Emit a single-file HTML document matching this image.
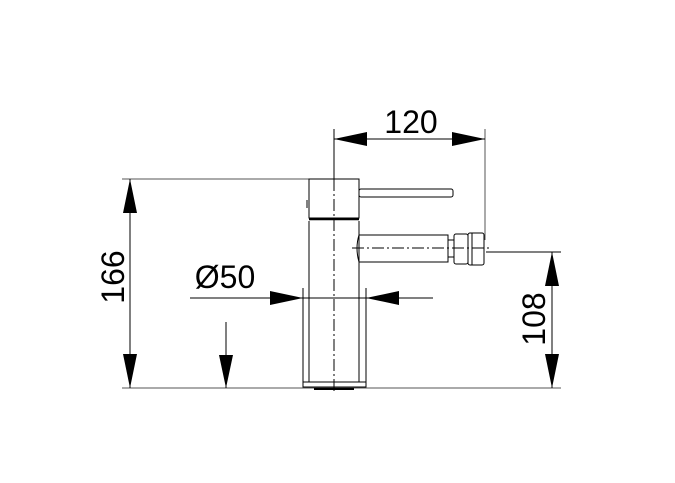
<!DOCTYPE html>
<html><head><meta charset="utf-8"><style>
html,body{margin:0;padding:0;background:#fff}
svg{display:block}
text{font-family:"Liberation Sans",sans-serif;fill:#000}
</style></head><body>
<svg width="675" height="483" viewBox="0 0 675 483" xmlns="http://www.w3.org/2000/svg">
<g stroke="#000" stroke-width="1" fill="none">
<line x1="122" y1="179" x2="309" y2="179" stroke="#555"/>
<line x1="122" y1="388" x2="561" y2="388" stroke="#555"/>
<line x1="486" y1="252" x2="561" y2="252"/>
<line x1="334" y1="129" x2="334" y2="180"/>
<line x1="485" y1="129" x2="485" y2="240" stroke="#555"/>
<line x1="334" y1="139" x2="485" y2="139"/>
<line x1="130" y1="179" x2="130" y2="388"/>
<line x1="552" y1="252" x2="552" y2="388"/>
<line x1="190" y1="298" x2="433" y2="298"/>
<line x1="226" y1="322" x2="226" y2="388"/>
<rect x="309" y="179" width="50" height="39"/>
<line x1="309" y1="219" x2="359" y2="219" stroke-width="2.5"/>
<line x1="309" y1="221" x2="309" y2="382"/>
<line x1="359" y1="221" x2="359" y2="382"/>
<line x1="303" y1="288" x2="303" y2="382"/>
<line x1="366" y1="288" x2="366" y2="382"/>
<rect x="303" y="382" width="63" height="5"/>
<line x1="314" y1="389" x2="354" y2="389" stroke-width="2"/>
<line x1="307" y1="200" x2="307" y2="208"/>
<rect x="359" y="189" width="94" height="8" rx="2"/>
<path d="M359 235 L448 235 L448 262 L359 262 Q355 248 359 235"/>
<rect x="448" y="240" width="6" height="17"/>
<rect x="454" y="234" width="14" height="30" rx="2"/>
<rect x="468" y="233" width="16" height="32" rx="2"/>
<line x1="472" y1="233" x2="472" y2="265"/>
<line x1="334" y1="179" x2="334" y2="392" stroke-dasharray="12,3,2,3"/>
<line x1="352" y1="248" x2="492" y2="248" stroke-dasharray="12,3,2,3"/>
</g>
<g fill="#000">
<polygon points="334,139 367,132 367,146"/>
<polygon points="485,139 452,132 452,146"/>
<polygon points="130,179 123,213 137,213"/>
<polygon points="130,388 123,354 137,354"/>
<polygon points="552,252 545,286 559,286"/>
<polygon points="552,388 545,354 559,354"/>
<polygon points="303,298 270,291 270,305"/>
<polygon points="366,298 399,291 399,305"/>
<polygon points="226,388 219,355 233,355"/>
</g>
<text x="411" y="133" font-size="32" text-anchor="middle">120</text>
<text x="225" y="288" font-size="32" text-anchor="middle">Ø50</text>
<text transform="translate(124,277) rotate(-90)" font-size="32" text-anchor="middle">166</text>
<text transform="translate(545,319) rotate(-90)" font-size="32" text-anchor="middle">108</text>
</svg>
</body></html>
